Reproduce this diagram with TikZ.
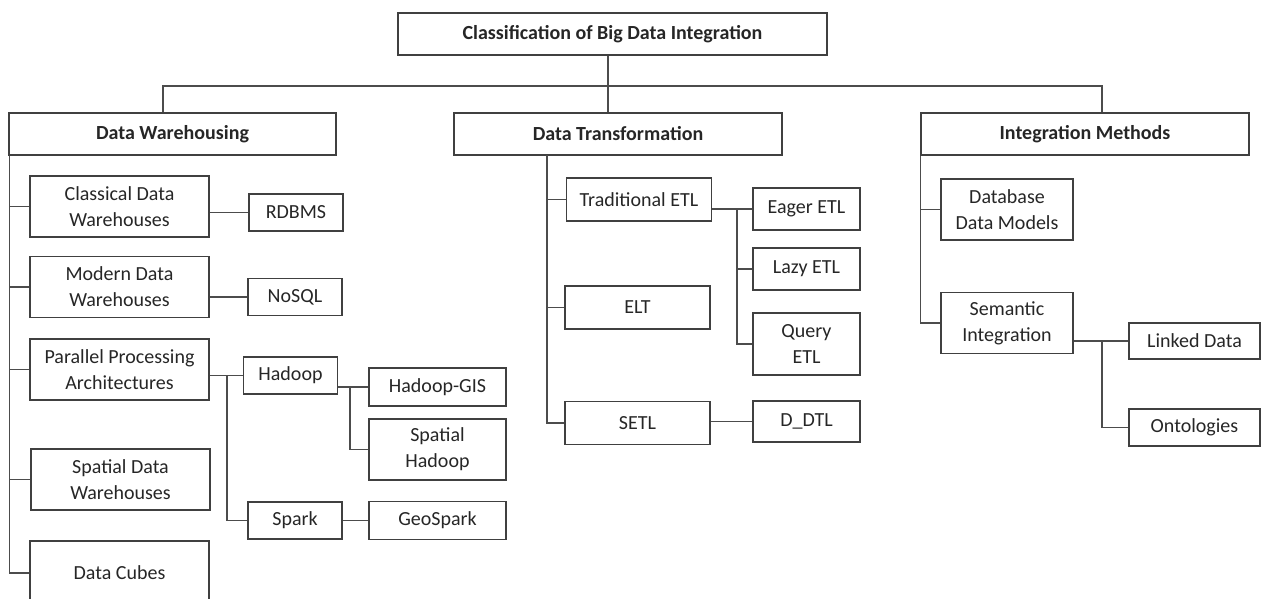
\documentclass[tikz,border=0pt]{standalone}
\usepackage{fontspec}
\setmainfont{Carlito}
\usetikzlibrary{positioning}

\begin{document}
\begin{tikzpicture}[x=1pt, y=-1pt, font=\fontsize{20}{26}\selectfont, text=black!85,
	block/.style={
		rectangle,
		draw=black!75, line width=1.3pt,
		inner sep=0pt,
		align=center,
	},
	head/.style={block, minimum width=328pt, minimum height=42pt, font=\fontsize{20}{26}\selectfont\bfseries},
	wide/.style={block, minimum width=179pt, minimum height=61pt},
	small/.style={block, minimum width=94pt, minimum height=37pt},
	mid/.style={block, minimum width=137pt, minimum height=38pt},
	etl/.style={block, minimum width=145pt, minimum height=43pt},
	sub/.style={block, minimum width=107pt, minimum height=42pt},
	meth/.style={block, minimum width=132pt, minimum height=61pt},
	leaf/.style={block, minimum width=131pt, minimum height=36pt},
	link/.style={draw=black!70, line width=1.2pt},
	]
	\useasboundingbox (0,0) rectangle (1261,598);
	\clip (0,0) rectangle (1261,598);

	\node[head, minimum width=429pt] (root) at (612.5,34) {Classification of Big Data Integration};
	\node[head, minimum width=327pt] (dw) at (172.5,134) {Data Warehousing};
	\node[head] (dt) at (618,134) {Data Transformation};
	\node[head] (im) at (1085,134) {Integration Methods};

	% data warehousing
	\node[wide] (cdw) at (119.5,206.5) {Classical Data\\Warehouses};
	\node[small] (rdbms) at (296,212.5) {RDBMS};
	\node[wide] (mdw) at (119.5,287) {Modern Data\\Warehouses};
	\node[small] (nosql) at (295,297) {NoSQL};
	\node[wide] (pp) at (119.5,369.5) {Parallel Processing\\Architectures};
	\node[small] (hadoop) at (290.5,375.5) {Hadoop};
	\node[mid] (hgis) at (437.5,387) {Hadoop-GIS};
	\node[mid, minimum height=61pt] (shadoop) at (437.5,449.5) {Spatial\\Hadoop};
	\node[wide] (sdw) at (120.5,479.5) {Spatial Data\\Warehouses};
	\node[small] (spark) at (295,520.5) {Spark};
	\node[mid] (geo) at (437.5,520.5) {GeoSpark};
	\node[wide, minimum height=64pt] (cubes) at (119.5,573) {Data Cubes};

	% data transformation
	\node[etl] (tetl) at (639,199.5) {Traditional ETL};
	\node[etl] (elt) at (637.5,307.5) {ELT};
	\node[etl] (setl) at (637.5,423) {SETL};
	\node[sub] (eager) at (806.5,209) {Eager ETL};
	\node[sub] (lazy) at (806.5,269) {Lazy ETL};
	\node[sub, minimum height=62pt] (query) at (806.5,344) {Query\\ETL};
	\node[sub, minimum height=41pt] (ddtl) at (806.5,421.5) {D\_DTL};

	% integration methods
	\node[meth] (ddm) at (1007,209.5) {Database\\Data Models};
	\node[meth] (si) at (1007,323) {Semantic\\Integration};
	\node[leaf] (ld) at (1194.5,341) {Linked Data};
	\node[leaf, minimum height=37pt] (onto) at (1194.5,427.5) {Ontologies};

	\coordinate (busL) at (163,86);
	\coordinate (busC) at (608,86);
	\coordinate (busR) at (1102,86);
	\coordinate (jPP) at (227,0);
	\coordinate (jH) at (350,0);
	\coordinate (jE) at (737,0);
	\coordinate (sDT) at (547,155);
	\coordinate (jS) at (1102,0);

	\draw[link] (busC |- root.south) -- (busC) -- (busC |- dt.north);
	\draw[link] (busL |- dw.north) -- (busL) -- (busR) -- (busR |- im.north);

	\draw[link] ([xshift=1pt]dw.south west) |- (cubes.west);
	\foreach \n in {cdw,mdw,pp,sdw}
		\draw[link] ([xshift=1pt]dw.south west |- \n.west) -- (\n.west);
	\draw[link] (cdw.east |- rdbms) -- (rdbms.west);
	\draw[link] (mdw.east |- nosql) -- (nosql.west);
	\draw[link] (pp.east |- hadoop) -- (hadoop.west);
	\draw[link] (jPP |- hadoop) |- (spark.west);
	\draw[link] (hadoop.east |- hgis) -- (hgis.west);
	\draw[link] (jH |- hgis) |- (shadoop.west);
	\draw[link] (spark) -- (geo);

	\draw[link] (sDT) |- (setl.west);
	\foreach \n in {tetl,elt}
		\draw[link] (sDT |- \n.west) -- (\n.west);
	\draw[link] (tetl.east |- eager) -- (eager.west);
	\draw[link] (jE |- eager) |- (query.west);
	\draw[link] (jE |- lazy) -- (lazy.west);
	\draw[link] (setl.east |- ddtl) -- (ddtl.west);

	\draw[link] (im.south west) |- (si.west);
	\draw[link] (im.south west |- ddm.west) -- (ddm.west);
	\draw[link] (si.east |- ld) -- (ld.west);
	\draw[link] (jS |- ld) |- (onto.west);
\end{tikzpicture}
\end{document}
